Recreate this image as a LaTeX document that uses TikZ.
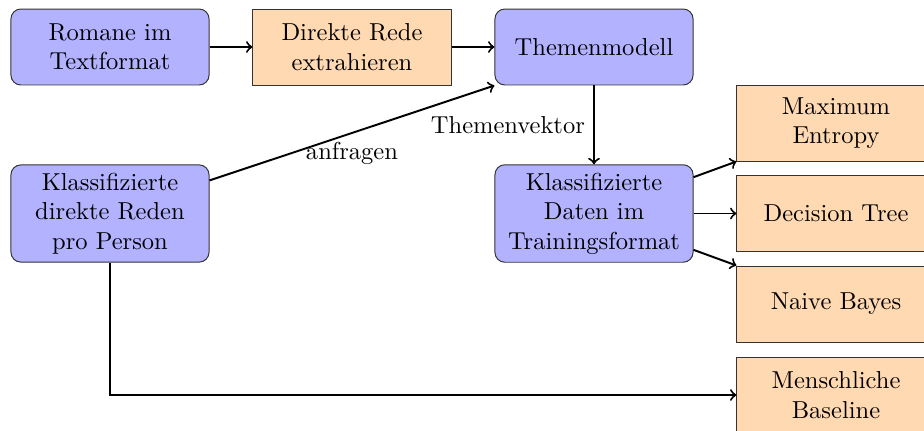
\documentclass[tikz,border=0pt]{standalone}
\usetikzlibrary{arrows.meta}
\begin{document}
\begin{tikzpicture}[x=0.408pt,y=-0.408pt,
  box/.style={draw=black!80, text width=2.5cm, align=center, minimum width=80.8pt, minimum height=31pt, inner sep=3.33pt},
  bluebox/.style={box, rounded corners=4pt, fill=blue!30},
  orangebox/.style={box, fill=orange!30},
  conn/.style={->, thick, >=to}]
\useasboundingbox (0,0) rectangle (924,430);
\node[bluebox] (romane) at (110,47) {Romane im Textformat};
\node[orangebox] (rede) at (352,47) {Direkte Rede extrahieren};
\node[bluebox] (themen) at (594,47) {Themenmodell};
\node[bluebox] (reden) at (110,213.5) {Klassifizierte direkte Reden pro Person};
\node[bluebox] (daten) at (594,213.5) {Klassifizierte Daten im Trainingsformat};
\node[orangebox] (maxent) at (836,123) {Maximum Entropy};
\node[orangebox] (tree) at (836,213.5) {Decision Tree};
\node[orangebox] (bayes) at (836,304) {Naive Bayes};
\node[orangebox] (mensch) at (836,395) {Menschliche Baseline};
\draw[conn] (romane) -- (rede);
\draw[conn] (rede) -- (themen);
\draw[conn] (reden) -- (themen.south west) node[midway, below] {anfragen};
\draw[conn] (themen) -- (daten) node[midway, left] {Themenvektor};
\draw[conn] (daten) -- (maxent.south west);
\draw[conn] (daten) -- (tree);
\draw[conn] (daten) -- (bayes.north west);
\draw[conn] (reden) |- (mensch);
\end{tikzpicture}
\end{document}
